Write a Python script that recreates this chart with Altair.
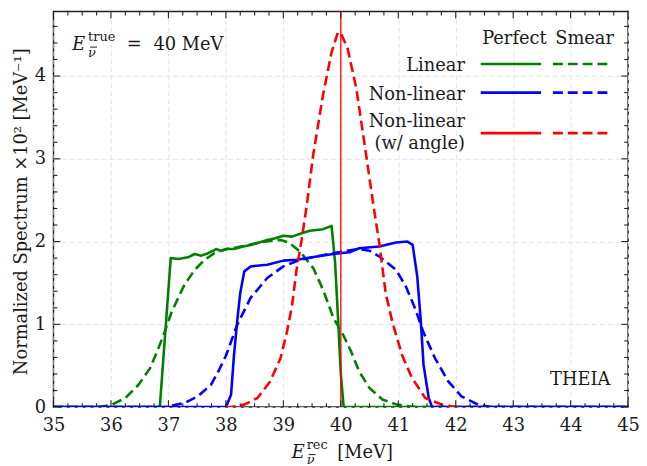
import altair as alt
import pandas as pd

# ---------------- data ----------------
lin_perf_x = [35, 36.85, 37.04, 37.17, 37.34, 37.46, 37.57, 37.69, 37.83, 37.91, 38.03, 38.14, 38.30,
              38.43, 38.58, 38.72, 38.86, 39.0, 39.15, 39.32, 39.46, 39.58, 39.69, 39.84, 39.90, 39.95,
              40.0, 40.05, 45]
lin_perf_y = [0, 0, 1.80, 1.79, 1.81, 1.85, 1.83, 1.86, 1.91, 1.89, 1.91, 1.91, 1.94,
              1.96, 1.99, 2.02, 2.04, 2.07, 2.06, 2.10, 2.13, 2.14, 2.15, 2.19, 1.75, 1.10,
              0.40, 0, 0]

lin_smear_x = [35, 35.8, 36.02, 36.25, 36.48, 36.68, 36.82, 36.94, 37.05, 37.17, 37.28, 37.46, 37.63,
               37.80, 38.0, 38.2, 38.4, 38.6, 38.8, 38.95, 39.09, 39.29, 39.52, 39.69, 39.87, 40.05,
               40.18, 40.32, 40.50, 40.73, 40.98, 41.3, 45]
lin_smear_y = [0, 0, 0.03, 0.11, 0.27, 0.47, 0.70, 0.92, 1.14, 1.32, 1.48, 1.66, 1.78,
               1.86, 1.91, 1.93, 1.96, 1.99, 2.01, 2.02, 1.99, 1.88, 1.68, 1.42, 1.08, 0.86,
               0.67, 0.43, 0.23, 0.09, 0.03, 0, 0]

nl_perf_x = [35, 38.0, 38.09, 38.14, 38.20, 38.25, 38.32, 38.43, 38.72, 39.0, 39.23, 39.58, 39.87,
             40.15, 40.32, 40.67, 40.96, 41.16, 41.25, 41.33, 41.39, 41.44, 41.53, 41.59, 45]
nl_perf_y = [0, 0, 0.15, 0.62, 1.06, 1.38, 1.64, 1.70, 1.72, 1.77, 1.78, 1.82, 1.85,
             1.87, 1.92, 1.94, 1.99, 2.00, 1.96, 1.58, 1.06, 0.51, 0.11, 0, 0]

nl_smear_x = [35, 36.94, 37.28, 37.51, 37.74, 37.86, 38.0, 38.2, 38.43, 38.72, 39.0, 39.29, 39.58,
              39.87, 40.1, 40.3, 40.5, 40.67, 40.96, 41.13, 41.30, 41.44, 41.64, 41.87, 42.10, 42.39,
              42.6, 45]
nl_smear_y = [0, 0, 0.05, 0.13, 0.27, 0.42, 0.62, 1.0, 1.32, 1.56, 1.70, 1.78, 1.82,
              1.86, 1.89, 1.91, 1.89, 1.82, 1.66, 1.46, 1.18, 0.90, 0.59, 0.31, 0.13, 0.03,
              0, 0]

nla_smear_x = [38.0, 38.09, 38.32, 38.55, 38.77, 38.95, 39.06, 39.15, 39.23, 39.32, 39.41, 39.52,
               39.69, 39.84, 39.95, 40.0, 40.12, 40.27, 40.44, 40.58, 40.67, 40.78, 40.90, 41.07,
               41.24, 41.47, 41.76, 42.0, 42.1]
nla_smear_y = [0, 0, 0.03, 0.11, 0.31, 0.59, 0.90, 1.22, 1.66, 2.03, 2.45, 3.05,
               3.77, 4.29, 4.53, 4.52, 4.33, 3.85, 3.05, 2.38, 1.98, 1.38, 1.02, 0.62,
               0.35, 0.11, 0.03, 0, 0]

nla_perf_x = [40.0]

x_major = [35, 36, 37, 38, 39, 40, 41, 42, 43, 44, 45]
x_minor = [35 + 0.25 * i for i in range(41) if i % 4 != 0]
y_major = [0, 1, 2, 3, 4]
y_minor = [round(0.2 * i, 1) for i in range(24) if i % 5 != 0]

# ---------------- style ----------------
W, H = 581, 400
FONT = "DejaVu Serif"
TXT = "#1a1a1a"
GREEN, BLUE, RED = "#007f00", "#0000ff", "#ff0000"
DASH = [10, 5]
LW = 2.6
FS = 18
SS = 13

xscale = alt.Scale(domain=[35, 45], nice=False, zero=False)
yscale = alt.Scale(domain=[0, 4.78], nice=False, zero=False)
one = pd.DataFrame({"a": [0]})

XAX = alt.Axis(values=x_major, grid=True, gridColor="#e4e4e4", gridDash=[5, 3], gridWidth=1,
               ticks=False, tickSize=0, domain=False, labelFont=FONT, labelFontSize=FS,
               labelColor=TXT, labelPadding=10, labelFlush=False, labelOverlap=False,
               format="d", title=None)
YAX = alt.Axis(values=y_major, grid=True, gridColor="#e4e4e4", gridDash=[5, 3], gridWidth=1,
               ticks=False, tickSize=0, domain=False, labelFont=FONT, labelFontSize=FS,
               labelColor=TXT, labelPadding=8, labelOverlap=False, format="d",
               title="Normalized Spectrum ×10² [MeV⁻¹]", titleFont=FONT, titleFontSize=FS,
               titleFontWeight="normal", titleColor=TXT, titleAngle=270, titleX=-32,
               titleY=202, titleAlign="center", titleBaseline="middle")


def X(field):
    return alt.X(field, scale=xscale, axis=XAX)


def Y(field):
    return alt.Y(field, scale=yscale, axis=YAX)


def curve(xs, ys, color, dashed):
    df = pd.DataFrame({"x": xs, "y": ys, "o": list(range(len(xs)))})
    kw = dict(color=color, strokeWidth=LW, clip=True, strokeCap="butt", strokeJoin="round")
    if dashed:
        kw["strokeDash"] = DASH
    return alt.Chart(df).mark_line(**kw).encode(x=X("x:Q"), y=Y("y:Q"), order="o:Q")


def xticks(vals, length):
    df = pd.DataFrame({"v": vals})
    base = alt.Chart(df).mark_rule(color="#222", strokeWidth=1.1)
    return [base.encode(x=X("v:Q"), y=alt.value(H), y2=alt.value(H - length)),
            base.encode(x=X("v:Q"), y=alt.value(0), y2=alt.value(length))]


def yticks(vals, length):
    df = pd.DataFrame({"v": vals})
    base = alt.Chart(df).mark_rule(color="#222", strokeWidth=1.1)
    return [base.encode(y=Y("v:Q"), x=alt.value(0), x2=alt.value(length)),
            base.encode(y=Y("v:Q"), x=alt.value(W), x2=alt.value(W - length))]


def text(t, x, y, size=FS, align="left", italic=False):
    return alt.Chart(one).mark_text(font=FONT, fontSize=size, color=TXT, align=align,
                                    baseline="alphabetic",
                                    fontStyle="italic" if italic else "normal").encode(
        x=alt.value(x), y=alt.value(y), text=alt.value(t))


def bar_over(x1, x2, y):
    return alt.Chart(one).mark_rule(color=TXT, strokeWidth=1).encode(
        x=alt.value(x1), x2=alt.value(x2), y=alt.value(y))


def sample(x1, x2, y, color, dashed):
    kw = dict(color=color, strokeWidth=LW, strokeCap="butt")
    if dashed:
        kw["strokeDash"] = DASH
    return alt.Chart(one).mark_rule(**kw).encode(x=alt.value(x1), x2=alt.value(x2), y=alt.value(y))


layers = []
layers.append(curve(lin_perf_x, lin_perf_y, GREEN, False))
layers.append(curve(lin_smear_x, lin_smear_y, GREEN, True))
layers.append(curve(nl_perf_x, nl_perf_y, BLUE, False))
layers.append(curve(nl_smear_x, nl_smear_y, BLUE, True))
layers.append(curve(nla_smear_x, nla_smear_y, RED, True))
layers.append(alt.Chart(pd.DataFrame({"x": nla_perf_x})).mark_rule(color=RED, strokeWidth=1.3).encode(
    x=X("x:Q"), y=alt.value(0), y2=alt.value(H)))

layers += xticks(x_major, 7) + xticks(x_minor, 4) + yticks(y_major, 7) + yticks(y_minor, 4)

# E_true annotation
layers += [
    text("E", 19, 39, italic=True),
    text("true", 35, 30, size=SS),
    text("\u03bd", 35, 46, size=SS, italic=True),
    bar_over(37, 44, 36),
    text("=", 74, 39),
    text("40 MeV", 101, 39),
]

# legend
layers += [
    text("Perfect", 466, 33, align="center"),
    text("Smear", 537, 33, align="center"),
    text("Linear", 416, 60, align="right"),
    text("Non-linear", 416, 89, align="right"),
    text("Non-linear", 416, 117, align="right"),
    text("(w/ angle)", 416, 139, align="right"),
    sample(432, 493, 53, GREEN, False), sample(505, 561, 53, GREEN, True),
    sample(432, 493, 82, BLUE, False), sample(505, 561, 82, BLUE, True),
    sample(432, 493, 123, RED, False), sample(505, 561, 123, RED, True),
]

layers.append(text("THEIA", 563, 378, align="right"))

# x title
layers += [
    text("E", 241, 451, italic=True),
    text("rec", 256, 442, size=SS),
    text("\u03bd", 256, 458, size=SS, italic=True),
    bar_over(258, 265, 448),
    text("[MeV]", 287, 451),
]

chart = alt.layer(*layers).properties(
    width=W, height=H,
    padding={"left": 46, "top": 1, "right": 11, "bottom": 57},
    autosize=alt.AutoSizeParams(type="none"),
    background="white",
).configure_view(stroke="#222", strokeWidth=1.5)

chart.save("out.html", embed_options={"renderer": "svg", "actions": False})
